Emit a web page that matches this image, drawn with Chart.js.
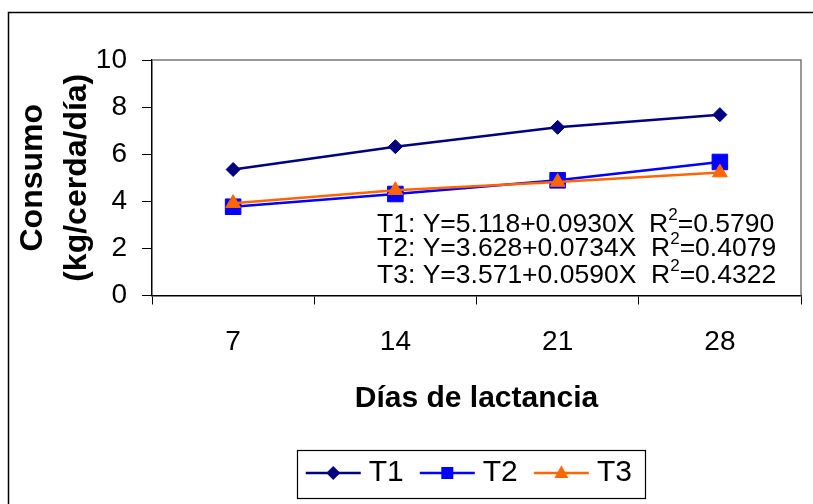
<!DOCTYPE html>
<html><head><meta charset="utf-8">
<script src="https://cdn.jsdelivr.net/npm/chart.js@4/dist/chart.umd.min.js"></script>
<style>html,body{margin:0;padding:0;background:#fff}#wrap{width:813px;height:504px;position:relative}</style>
</head><body><div id="wrap"><canvas id="c" width="813" height="504"></canvas></div>
<script>
const categories = ['7', '14', '21', '28'];
const seriesNames = ['T1', 'T2', 'T3'];
const t1Values = [5.35, 6.32, 7.14, 7.68];
const t2Values = [3.77, 4.31, 4.89, 5.67];
const t3Values = [3.92, 4.47, 4.82, 5.22];
const yTicks = [0, 2, 4, 6, 8, 10];
const eqPrefixes = ['T1: Y=5.118+0.0930X', 'T2: Y=3.628+0.0734X', 'T3: Y=3.571+0.0590X'];
const r2Values = ['0.5790', '0.4079', '0.4322'];
const yTitle = ['Consumo', '(kg/cerda/día)'];
const xTitle = 'Días de lactancia';

const FAM = '"Liberation Sans", Arial, sans-serif';
const colors = ['#000080', '#0000FF', '#FF6600'];
const styles = ['rectRot', 'rect', 'triangle'];
const radii = [7, 11, 8.5];
const LEGEND_SHIFT = -11.5;

function drawMarker(ctx, style, x, y, color, s) {
  ctx.fillStyle = color;
  ctx.beginPath();
  if (style === 'rectRot') {
    ctx.moveTo(x - s, y); ctx.lineTo(x, y - s); ctx.lineTo(x + s, y); ctx.lineTo(x, y + s);
  } else if (style === 'rect') {
    ctx.rect(x - s, y - s, 2 * s, 2 * s);
  } else {
    ctx.moveTo(x, y - s * 1.1); ctx.lineTo(x + s, y + s * 0.7); ctx.lineTo(x - s, y + s * 0.7);
  }
  ctx.closePath();
  ctx.fill();
}
function legendImage(i) {
  const W = 80, H = 26;
  const c = document.createElement('canvas');
  c.width = W; c.height = H;
  const ctx = c.getContext('2d');
  const lx = 19.8, len = 55;
  ctx.strokeStyle = colors[i]; ctx.lineWidth = 2.5;
  ctx.beginPath(); ctx.moveTo(lx, H / 2); ctx.lineTo(lx + len, H / 2); ctx.stroke();
  const sizes = [7, 6, 7];
  drawMarker(ctx, styles[i], lx + len / 2, H / 2, colors[i], sizes[i]);
  return c;
}
const legendImgs = [0, 1, 2].map(legendImage);

const framePlugin = {
  id: 'frame',
  beforeDraw(chart) {
    const ctx = chart.ctx;
    ctx.save();
    ctx.fillStyle = '#fff'; ctx.fillRect(0, 0, chart.width, chart.height);
    ctx.strokeStyle = '#000'; ctx.lineWidth = 1.5;
    ctx.strokeRect(8.5, 12.5, 900, 600);
    ctx.restore();
    const lg = chart.legend;
    if (lg && !lg._shifted) {
      lg.left += LEGEND_SHIFT; lg.right += LEGEND_SHIFT; lg._shifted = true;
    }
  },
  beforeDatasetsDraw(chart) {
    const {ctx, chartArea: a} = chart;
    ctx.save();
    ctx.strokeStyle = '#777'; ctx.lineWidth = 1.5;
    ctx.beginPath(); ctx.moveTo(a.left, a.top); ctx.lineTo(a.right, a.top); ctx.lineTo(a.right, a.bottom); ctx.stroke();
    ctx.restore();
  },
  afterDraw(chart) {
    const {ctx, chartArea: a} = chart;
    ctx.save();
    ctx.fillStyle = '#000';
    ctx.textBaseline = 'middle'; ctx.textAlign = 'left';
    const ys = [223.5, 247.5, 274.5];
    eqPrefixes.forEach((p, i) => {
      const y = a.top + (ys[i] - 59);
      let x = a.left + 225;
      ctx.font = '26.5px ' + FAM;
      const t1 = p + '  R';
      ctx.fillText(t1, x, y); x += ctx.measureText(t1).width;
      ctx.font = '17px ' + FAM;
      ctx.fillText('2', x, y - 9); x += ctx.measureText('2').width;
      ctx.font = '26.5px ' + FAM;
      ctx.fillText('=' + r2Values[i], x, y);
    });
    const lg = chart.legend;
    if (lg && lg.legendHitBoxes && lg.legendHitBoxes.length) {
      const hb = lg.legendHitBoxes;
      const l = Math.min(...hb.map(h => h.left)) - 1 + LEGEND_SHIFT;
      const r = Math.max(...hb.map(h => h.left + h.width)) + 13 + LEGEND_SHIFT;
      ctx.strokeStyle = '#000'; ctx.lineWidth = 1.2;
      ctx.strokeRect(Math.round(l) + 0.5, Math.round(lg.top) + 0.5, Math.round(r - l), Math.round(lg.height) - 1);
    }
    ctx.restore();
  }
};

const valuesList = [t1Values, t2Values, t3Values];
new Chart(document.getElementById('c'), {
  type: 'line',
  data: {
    labels: categories,
    datasets: seriesNames.map((n, i) => ({
      label: n,
      data: valuesList[i],
      borderColor: colors[i],
      backgroundColor: colors[i],
      borderWidth: 2.5,
      pointStyle: styles[i],
      pointRadius: radii[i],
      pointBorderWidth: 1,
      pointBackgroundColor: colors[i],
      pointBorderColor: colors[i],
      tension: 0,
      order: 2 - i
    }))
  },
  plugins: [framePlugin],
  options: {
    responsive: false,
    devicePixelRatio: 1,
    animation: false,
    events: [],
    layout: {padding: {top: 60, right: 5, bottom: 6, left: 0}},
    plugins: {
      tooltip: {enabled: false},
      legend: {
        position: 'bottom',
        fullSize: false,
        labels: {
          usePointStyle: true,
          pointStyleWidth: 55.6,
          padding: 8.5,
          color: '#000',
          font: {size: 30, family: FAM},
          generateLabels: chart => chart.data.datasets.map((ds, i) => ({
            text: ds.label, pointStyle: legendImgs[i], fillStyle: ds.borderColor,
            strokeStyle: ds.borderColor, lineWidth: 0, hidden: false, datasetIndex: i, fontColor: '#000'
          }))
        }
      }
    },
    scales: {
      x: {
        offset: true,
        grid: {offset: true, drawOnChartArea: false, drawTicks: true, tickLength: 9, color: '#000', lineWidth: 1},
        border: {color: '#000', width: 1.5},
        ticks: {font: {size: 28, family: FAM}, color: '#000', padding: 21, maxRotation: 0},
        title: {display: true, text: xTitle, color: '#000', font: {size: 30, weight: 'bold', family: FAM}, padding: {top: 0, bottom: 33}},
        afterFit: s => { s.height = 154; }
      },
      y: {
        min: 0, max: 10,
        afterBuildTicks: s => { s.ticks = yTicks.map(v => ({value: v})); },
        grid: {drawOnChartArea: false, drawTicks: true, tickLength: 10, color: '#000', lineWidth: 1},
        border: {color: '#000', width: 1.5},
        ticks: {font: {size: 28, family: FAM}, color: '#000', padding: 15},
        title: {display: true, text: yTitle, color: '#000', font: {size: 32, weight: 'bold', family: FAM, lineHeight: 1.375}, padding: {top: 11, bottom: 0}},
        afterFit: s => { s.width = 152; }
      }
    }
  }
});
</script>
</body></html>
